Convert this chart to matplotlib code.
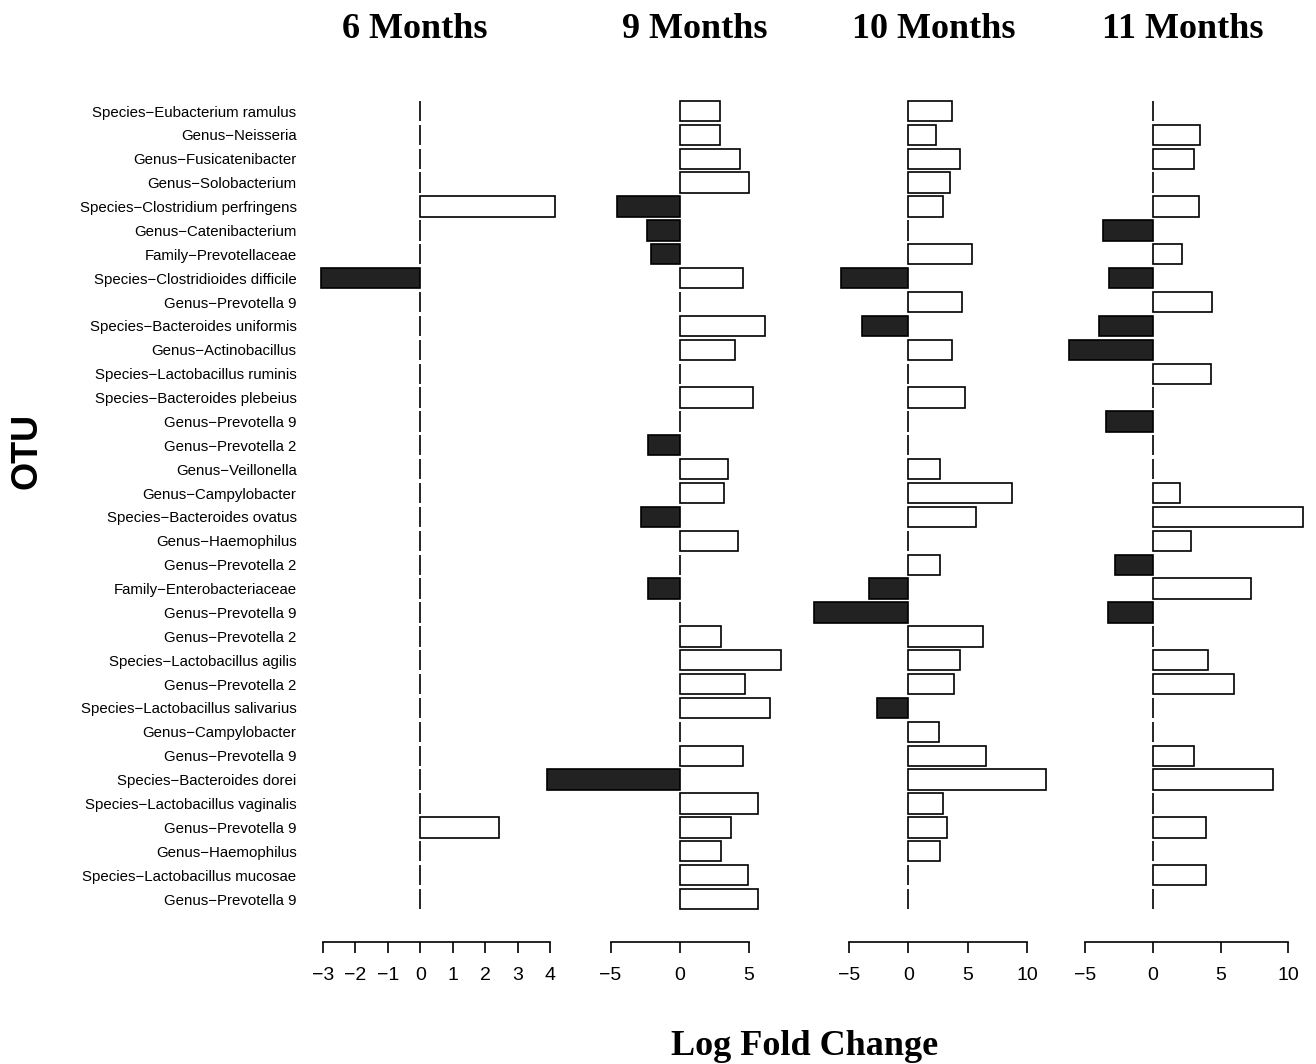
import numpy as np
import matplotlib
matplotlib.use("Agg")
import matplotlib.pyplot as plt

otu = [
    "Species−Eubacterium ramulus", "Genus−Neisseria", "Genus−Fusicatenibacter",
    "Genus−Solobacterium", "Species−Clostridium perfringens", "Genus−Catenibacterium",
    "Family−Prevotellaceae", "Species−Clostridioides difficile", "Genus−Prevotella 9",
    "Species−Bacteroides uniformis", "Genus−Actinobacillus", "Species−Lactobacillus ruminis",
    "Species−Bacteroides plebeius", "Genus−Prevotella 9", "Genus−Prevotella 2",
    "Genus−Veillonella", "Genus−Campylobacter", "Species−Bacteroides ovatus",
    "Genus−Haemophilus", "Genus−Prevotella 2", "Family−Enterobacteriaceae",
    "Genus−Prevotella 9", "Genus−Prevotella 2", "Species−Lactobacillus agilis",
    "Genus−Prevotella 2", "Species−Lactobacillus salivarius", "Genus−Campylobacter",
    "Genus−Prevotella 9", "Species−Bacteroides dorei", "Species−Lactobacillus vaginalis",
    "Genus−Prevotella 9", "Genus−Haemophilus", "Species−Lactobacillus mucosae",
    "Genus−Prevotella 9",
]

m6 = [0, 0, 0, 0, 4.15, 0, 0, -3.06, 0, 0, 0, 0, 0, 0, 0, 0, 0,
      0, 0, 0, 0, 0, 0, 0, 0, 0, 0, 0, 0, 0, 2.43, 0, 0, 0]
m9 = [2.9, 2.9, 4.37, 5.07, -4.56, -2.35, -2.05, 4.57, 0, 6.23, 4.0, 0, 5.36, 0, -2.3, 3.53, 3.2,
      -2.78, 4.25, 0, -2.27, 0, 3.04, 7.39, 4.73, 6.59, 0, 4.59, -9.57, 5.7, 3.72, 3.04, 4.95, 5.7]
m10 = [3.64, 2.3, 4.34, 3.47, 2.88, 0, 5.38, -5.69, 4.51, -3.92, 3.64, 0, 4.79, 0, 0, 2.69, 8.68,
       5.66, 0, 2.63, -3.34, -7.92, 6.3, 4.34, 3.81, -2.63, 2.6, 6.55, 11.57, 2.94, 3.28, 2.69, 0, 0]
m11 = [0, 3.5, 3.0, 0, 3.43, -3.72, 2.12, -3.23, 4.34, -3.97, -6.22, 4.27, 0, -3.48, 0, 0, 2.02,
       11.08, 2.84, -2.79, 7.25, -3.31, 0, 4.05, 6.02, 0, 0, 3.06, 8.86, 0, 3.9, 0, 3.9, 0]

titles = ["6 Months", "9 Months", "10 Months", "11 Months"]
series = [m6, m9, m10, m11]
ticks = [[-3, -2, -1, 0, 1, 2, 3, 4], [-5, 0, 5], [-5, 0, 5, 10], [-5, 0, 5, 10]]

W, H = 1316, 1064
fig = plt.figure(figsize=(W / 100, H / 100), dpi=100)

# pixel layout of each panel: zero position, px per unit, xlim
zero_px = [420.3, 679.5, 908.3, 1153.0]
scale = [32.43, 13.8, 11.9, 13.51]
xlims = [(-3.3, 4.5), (-10.2, 7.6), (-8.5, 12.3), (-6.6, 11.6)]
title_x = [415, 695, 934, 1183]

row0, dy = 111.0, 23.88
top_px, bot_px = 94.3, 942.0
y = np.arange(len(otu))
ylim = ((bot_px - row0) / dy, (top_px - row0) / dy)

lab_font = "Liberation Sans"
ser_font = "Liberation Serif"

for k in range(4):
    x0 = zero_px[k] + xlims[k][0] * scale[k]
    x1 = zero_px[k] + xlims[k][1] * scale[k]
    ax = fig.add_axes([x0 / W, 1 - bot_px / H, (x1 - x0) / W, (bot_px - top_px) / H])
    ax.patch.set_alpha(0)
    vals = np.array(series[k])
    cols = ["#222222" if v < 0 else "white" for v in vals]
    ax.barh(y, vals, height=0.85, color=cols, edgecolor="black", linewidth=1.2)
    ax.set_xlim(*xlims[k])
    ax.set_ylim(*ylim)
    for s in ["top", "right", "left"]:
        ax.spines[s].set_visible(False)
    ax.spines["bottom"].set_bounds(ticks[k][0], ticks[k][-1])
    ax.spines["bottom"].set_linewidth(1.2)
    ax.set_xticks(ticks[k])
    ax.set_xticklabels(["−" + str(-t) if t < 0 else str(t) for t in ticks[k]],
                       fontsize=14, family=lab_font)
    ax.tick_params(axis="x", direction="out", length=8, width=1.2, pad=10)
    if k == 0:
        ax.set_yticks(y)
        ax.set_yticklabels(otu, fontsize=10.8, family=lab_font)
        ax.tick_params(axis="y", length=0, pad=12)
    else:
        ax.set_yticks([])
    fig.text(title_x[k] / W, 1 - 38 / H, titles[k], ha="center", va="baseline",
             fontsize=26, fontweight="bold", family=ser_font)

fig.text(27 / W, 1 - 451 / H, "OTU", rotation=90, ha="center", va="center",
         fontsize=26, fontweight="bold", family=lab_font)
fig.text(805 / W, 1 - 1055 / H, "Log Fold Change", ha="center", va="baseline",
         fontsize=26, fontweight="bold", family=ser_font)

fig.savefig("out.png", dpi=100)
